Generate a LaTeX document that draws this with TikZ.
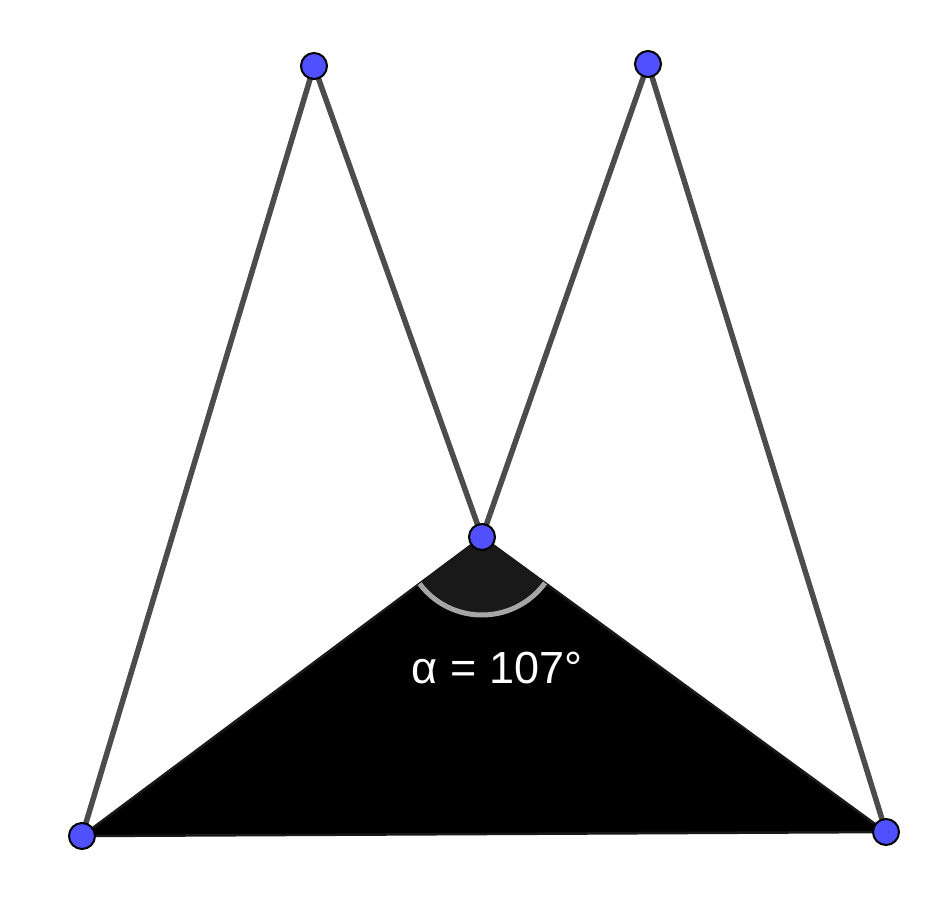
\documentclass[tikz,border=0pt]{standalone}
\usepackage{fontspec}
\setmainfont{Liberation Sans}
\begin{document}
\begin{tikzpicture}[x=1pt,y=1pt,
  seg/.style={draw=black!70, line width=5.5pt},
  pt/.style={circle, fill={rgb,255:red,80;green,80;blue,255}, draw=black, line width=2pt, minimum size=26pt, inner sep=0pt}]
\useasboundingbox (0,0) rectangle (939,-900);
\coordinate (A) at (82,-836);
\coordinate (B) at (886,-832);
\coordinate (C) at (482,-537);
\coordinate (D) at (314,-66);
\coordinate (E) at (648,-64);
\fill[black] (A) -- (C) -- (B) -- cycle;
\draw[black!90, line width=2.5pt, line join=round] (A) -- (C) -- (B) -- cycle;
\fill[black!90] (C) -- ++(216.8:78) arc[start angle=216.8, end angle=323.9, radius=78] -- cycle;
\draw[black!35, line width=5pt] (C) ++(216.8:78) arc[start angle=216.8, end angle=323.9, radius=78];
\draw[seg] (A) -- (D) -- (C) -- (E) -- (B);
\node[text=white, font=\fontsize{45}{52}\selectfont] (L) at (497,-668) {α = 107°};
\node[pt] (PA) at (A) {};
\node[pt] (PB) at (B) {};
\node[pt] (PC) at (C) {};
\node[pt] (PD) at (D) {};
\node[pt] (PE) at (E) {};
\end{tikzpicture}
\end{document}
